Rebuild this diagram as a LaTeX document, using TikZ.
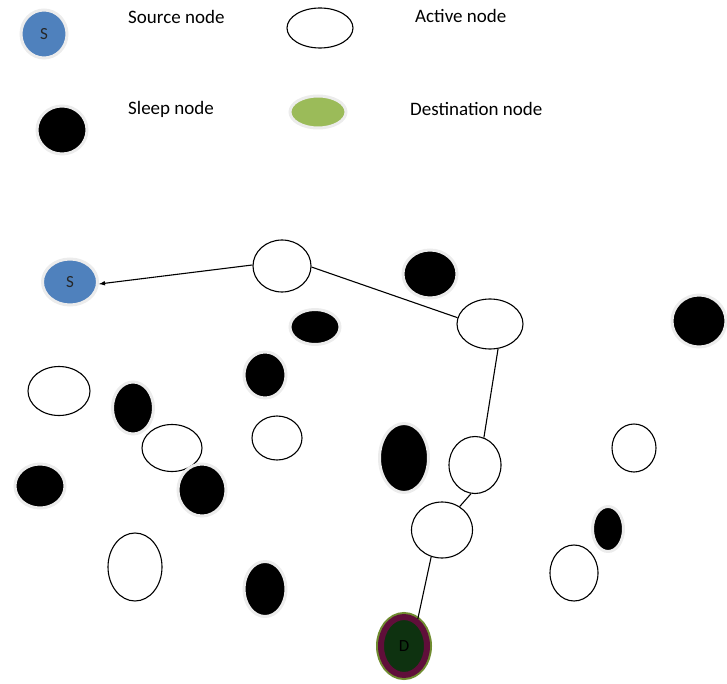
\documentclass[tikz,border=0pt]{standalone}
\usepackage{fontspec}
\setmainfont{Carlito}
\usetikzlibrary{shapes,arrows}
\definecolor{srcblue}{RGB}{79,129,189}
\definecolor{dstgreen}{RGB}{155,187,89}
\definecolor{dstolive}{RGB}{112,140,48}
\definecolor{dkgreen}{RGB}{14,50,16}
\definecolor{plum}{RGB}{96,14,58}
\definecolor{halo}{RGB}{236,236,236}

\begin{document}
\begin{tikzpicture}[x=1pt,y=-1pt,
  sz/.style 2 args={minimum width=#1pt,minimum height=#2pt},
  nd/.style={ellipse,inner sep=0pt},
  active/.style={nd,draw=black,line width=1.1pt,fill=white},
  sleep/.style={nd,fill=black,draw=halo,line width=3pt},
  source/.style={nd,fill=srcblue,draw=halo,line width=3pt,text=black!85,font=\fontsize{17}{19}\selectfont},
  dest/.style={nd,fill=dstgreen,draw=halo,line width=3pt},
  legtext/.style={anchor=base west,inner sep=0pt,font=\fontsize{19}{22}\selectfont}]
\useasboundingbox (0,0) rectangle (727,684);
\node[source,sz={46}{48}] (lsrc) at (44,34) {S};
\node[active,sz={66}{40}] (lact) at (320,28) {};
\node[sleep,sz={50}{48}] (lslp) at (62,130) {};
\node[dest,sz={56}{32}] (ldst) at (318,112) {};
\node[legtext] (tsrc) at (128,24) {Source node};
\node[legtext] (tact) at (415,23) {Active node};
\node[legtext] (tslp) at (128,115) {Sleep node};
\node[legtext] (tdst) at (410,116) {Destination node};
\node[active,sz={58}{52}] (a1) at (282,266) {};
\node[active,sz={66}{50}] (a2) at (490,324) {};
\node[active,sz={62}{49}] (a3) at (59,391) {};
\node[active,sz={60}{47}] (a4) at (172,448) {};
\node[active,sz={50}{44}] (a5) at (277,438) {};
\node[active,sz={52}{57}] (a6) at (475,465) {};
\node[active,sz={44}{48}] (a7) at (634,448) {};
\node[active,sz={61}{56}] (a8) at (442,530) {};
\node[active,sz={54}{68}] (a9) at (135,567) {};
\node[active,sz={48}{56}] (a10) at (574,573) {};
\node[sleep,sz={54}{48}] (z1) at (430,274) {};
\node[sleep,sz={54}{52}] (z2) at (699,321) {};
\node[sleep,sz={50}{35}] (z3) at (315,327) {};
\node[sleep,sz={42}{46}] (z4) at (265,375) {};
\node[sleep,sz={41}{52}] (z5) at (133,408) {};
\node[sleep,sz={49}{69}] (z6) at (404,458) {};
\node[sleep,sz={50}{44}] (z7) at (40,486) {};
\node[sleep,sz={48}{52}] (z8) at (202,490) {};
\node[sleep,sz={31}{45}] (z9) at (608,529) {};
\node[sleep,sz={42}{55}] (z10) at (265,589) {};
\node[source,sz={55}{46}] (s) at (70,282) {S};
\node[dest,sz={46}{58},fill=dkgreen,draw=plum,line width=6pt,
  preaction={draw=dstolive,line width=10pt},text=black,font=\fontsize{17}{19}\selectfont] (d) at (404,646) {D};
\draw[-latex,line width=1.1pt] (a1.178) -- (s.356);
\draw[line width=1.1pt] (a1.358) -- (a2.169);
\draw[line width=1.1pt] (a2.288) -- (a6.72);
\draw[line width=1.1pt] (a6.262) -- (a8.53);
\draw[line width=1.1pt] (a8.248) -- (d.63);
\end{tikzpicture}
\end{document}
